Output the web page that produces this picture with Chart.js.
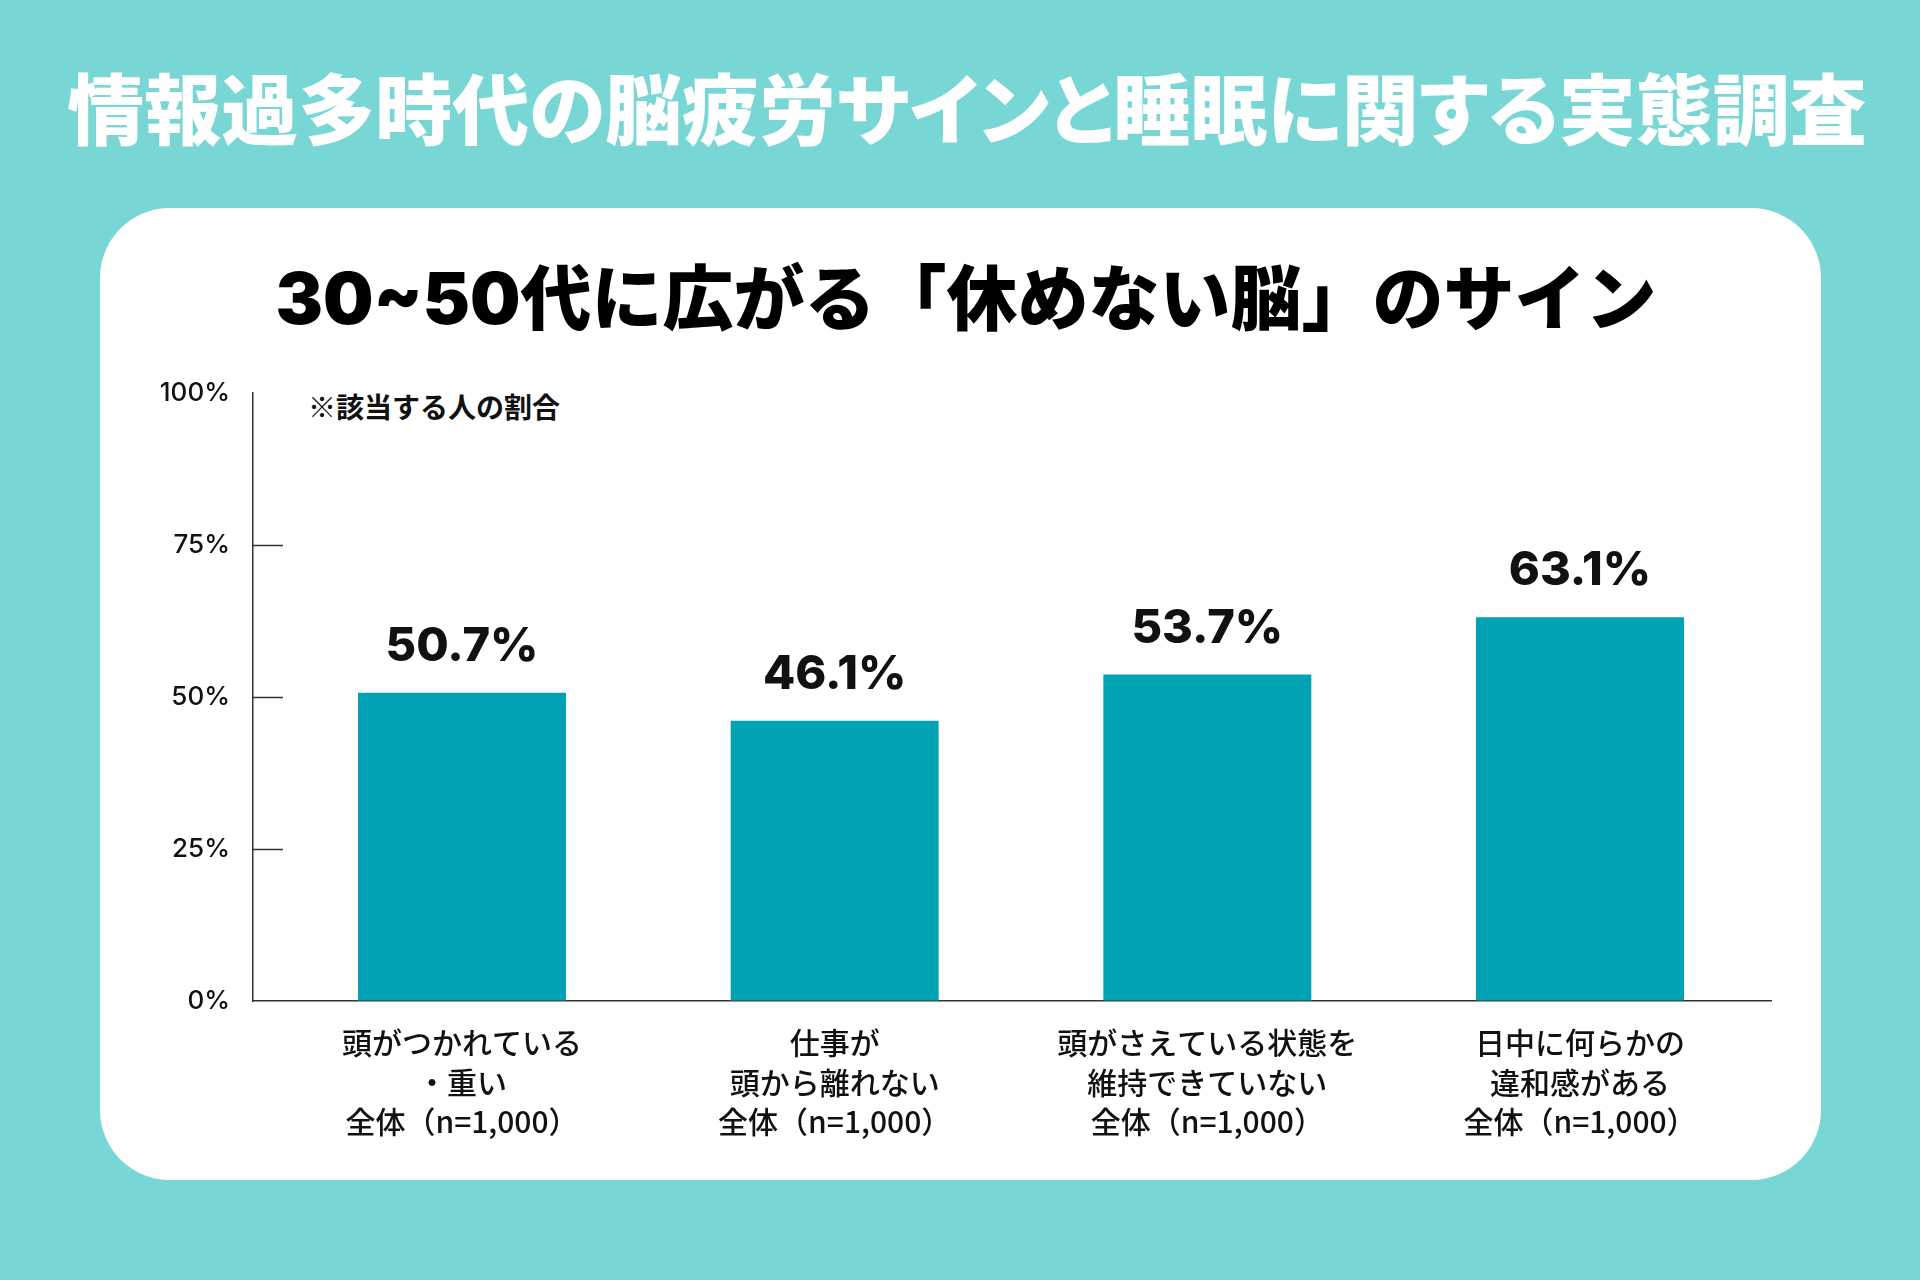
<!DOCTYPE html>
<html lang="ja">
<head>
<meta charset="utf-8">
<title>情報過多時代の脳疲労サインと睡眠に関する実態調査</title>
<script src="https://cdn.jsdelivr.net/npm/chart.js@4.4.1/dist/chart.umd.min.js"></script>
<style>
  html, body { margin: 0; padding: 0; }
  body { width: 1920px; height: 1280px; background: #78D7D5; position: relative; overflow: hidden;
         font-family: "Noto Sans CJK JP", sans-serif; }
  #mainTitle { position: absolute; left: 7px; top: 67px; width: 1920px; text-align: center;
               font-size: 77px; line-height: 1; font-weight: 900; color: #fff;
               font-feature-settings: "palt"; white-space: nowrap; }
  #panel { position: absolute; left: 100px; top: 208px; width: 1721px; height: 972px;
           background: #fff; border-radius: 70px; }
  #subTitle { position: absolute; left: 6px; top: 263px; width: 1920px; text-align: center;
              font-family: "Inter", "Noto Sans CJK JP", sans-serif;
              font-size: 71px; line-height: 1; font-weight: 900; color: #000;
              white-space: nowrap; }
  #note { position: absolute; left: 308px; top: 392px; font-size: 28px; line-height: 1;
          font-weight: 700; color: #111; white-space: nowrap; }
  #chart { position: absolute; left: 0; top: 0; }
</style>
</head>
<body>
<div id="mainTitle">情報過多時代の脳疲労サインと睡眠に関する実態調査</div>
<div id="panel"></div>
<div id="subTitle">30~50代に広がる「休めない脳」のサイン</div>
<div id="note">※該当する人の割合</div>
<canvas id="chart" width="1920" height="1280" style="width:1920px;height:1280px"></canvas>
<script>
// ---- data ----
const categories = [
  ["頭がつかれている", "・重い", "全体（n=1,000）"],
  ["仕事が", "頭から離れない", "全体（n=1,000）"],
  ["頭がさえている状態を", "維持できていない", "全体（n=1,000）"],
  ["日中に何らかの", "違和感がある", "全体（n=1,000）"]
];
const values = [50.7, 46.1, 53.7, 63.1];
const yTickValues = [0, 25, 50, 75, 100];
const yTickLabels = ["0%", "25%", "50%", "75%", "100%"];

const barColor = "#02A2B5";
const axisColor = "#333333";

const valueLabels = {
  id: "valueLabels",
  afterDatasetsDraw(chart) {
    const ctx = chart.ctx;
    const meta = chart.getDatasetMeta(0);
    ctx.save();
    ctx.font = '800 47px Inter, "Noto Sans CJK JP", sans-serif';
    ctx.fillStyle = "#111";
    ctx.textAlign = "center";
    ctx.textBaseline = "alphabetic";
    meta.data.forEach((bar, i) => {
      ctx.fillText(values[i].toFixed(1) + "%", bar.x, bar.y - 32);
    });
    ctx.restore();
  }
};

function build() {
  new Chart(document.getElementById("chart"), {
    type: "bar",
    data: {
      datasets: [{
        data: values.map((v, i) => ({ x: i, y: v })),
        backgroundColor: barColor,
        borderWidth: 0,
        barPercentage: 0.558,
        categoryPercentage: 1
      }]
    },
    options: {
      responsive: false,
      animation: false,
      devicePixelRatio: 1,
      layout: { padding: { top: 393, right: 149, bottom: 0, left: 0 } },
      plugins: { legend: { display: false }, tooltip: { enabled: false }, title: { display: false } },
      scales: {
        x: {
          type: "linear",
          offset: false,
          min: -0.5608,
          max: 3.5125,
          afterBuildTicks: s => { s.ticks = categories.map((c, i) => ({ value: i })); },
          afterFit: s => { s.height = 279; },
          grid: { display: false, drawTicks: false },
          border: { display: true, color: axisColor, width: 1.5 },
          ticks: {
            autoSkip: false, maxRotation: 0, minRotation: 0, padding: 22,
            color: "#111",
            font: { family: '"Noto Sans CJK JP", sans-serif', size: 30, weight: "500", lineHeight: 1.32 },
            callback: v => categories[v]
          }
        },
        y: {
          min: 0, max: 100,
          afterBuildTicks: s => { s.ticks = yTickValues.map(v => ({ value: v })); },
          afterFit: s => { s.width = 253; },
          grid: {
            drawOnChartArea: false, drawTicks: true, tickLength: -30,
            color: c => (c.tick && (c.tick.value === 0 || c.tick.value === 100)) ? "rgba(0,0,0,0)" : axisColor,
            tickColor: c => (c.tick && (c.tick.value === 0 || c.tick.value === 100)) ? "rgba(0,0,0,0)" : axisColor,
            tickWidth: 1.5
          },
          border: { display: true, color: axisColor, width: 1.5 },
          ticks: {
            padding: 53, color: "#111",
            font: { family: 'Inter, "Noto Sans CJK JP", sans-serif', size: 26, weight: "500" },
            callback: v => yTickLabels[yTickValues.indexOf(v)]
          }
        }
      }
    },
    plugins: [valueLabels]
  });
}
if (document.fonts && document.fonts.ready) { document.fonts.ready.then(build); } else { build(); }
</script>
</body>
</html>
